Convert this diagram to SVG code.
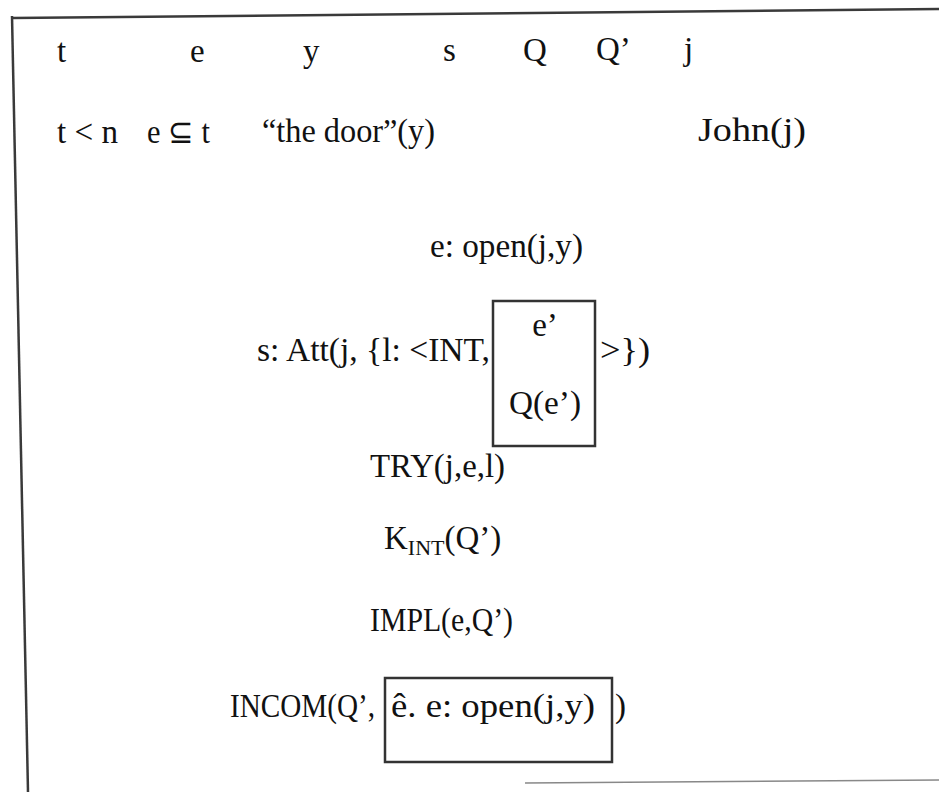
<svg xmlns="http://www.w3.org/2000/svg" width="939" height="792" viewBox="0 0 939 792">
<style>
  text { font-family: "Liberation Serif", "Times New Roman", serif; font-size: 33px; fill: #111; }
  .sub { font-size: 22px; }
  .frame { fill: none; stroke: #3a3a3a; stroke-width: 2.5; }
  .faint { fill: none; stroke: #888; stroke-width: 1.5; }
  .box { fill: none; stroke: #333; stroke-width: 2.5; }
</style>
<rect width="939" height="792" fill="#fff"/>
<g id="frame">
  <path class="frame" d="M12,18 L939,9"/>
  <path class="frame" d="M12,16 L28,792"/>
  <path class="faint" d="M525,783 L939,780"/>
</g>
<g id="universe">
  <text x="57" y="62">t</text>
  <text x="190" y="62">e</text>
  <text x="303" y="62">y</text>
  <text x="443" y="61">s</text>
  <text x="523" y="61">Q</text>
  <text x="596" y="60">Q’</text>
  <text x="684" y="60">j</text>
</g>
<g id="conditions-top">
  <text x="57" y="143" textLength="61" lengthAdjust="spacingAndGlyphs">t &lt; n</text>
  <text x="147" y="143" textLength="63" lengthAdjust="spacingAndGlyphs">e ⊆ t</text>
  <text x="262" y="142" textLength="173" lengthAdjust="spacingAndGlyphs">“the door”(y)</text>
  <text x="698" y="141" textLength="108" lengthAdjust="spacingAndGlyphs">John(j)</text>
</g>
<g id="open">
  <text x="430" y="257" textLength="153" lengthAdjust="spacingAndGlyphs">e:  open(j,y)</text>
</g>
<g id="att">
  <text x="257" y="361" textLength="233" lengthAdjust="spacingAndGlyphs">s: Att(j, {l: &lt;INT,</text>
  <rect class="box" x="493" y="301" width="102" height="145"/>
  <text x="545" y="336" text-anchor="middle">e’</text>
  <text x="545" y="414" text-anchor="middle" textLength="72" lengthAdjust="spacingAndGlyphs">Q(e’)</text>
  <text x="600" y="361" textLength="50" lengthAdjust="spacingAndGlyphs">&gt;})</text>
</g>
<g id="try">
  <text x="370" y="477" textLength="135" lengthAdjust="spacingAndGlyphs">TRY(j,e,l)</text>
</g>
<g id="kint">
  <text x="384" y="549">K<tspan class="sub" dy="6">INT</tspan><tspan dy="-6">(Q’)</tspan></text>
</g>
<g id="impl">
  <text x="370" y="631" textLength="143" lengthAdjust="spacingAndGlyphs">IMPL(e,Q’)</text>
</g>
<g id="incom">
  <text x="230" y="717" textLength="145" lengthAdjust="spacingAndGlyphs">INCOM(Q’,</text>
  <rect class="box" x="385" y="678" width="227" height="84"/>
  <text x="391" y="717" textLength="204" lengthAdjust="spacingAndGlyphs">ê.  e: open(j,y)</text>
  <text x="615" y="717">)</text>
</g>
</svg>
